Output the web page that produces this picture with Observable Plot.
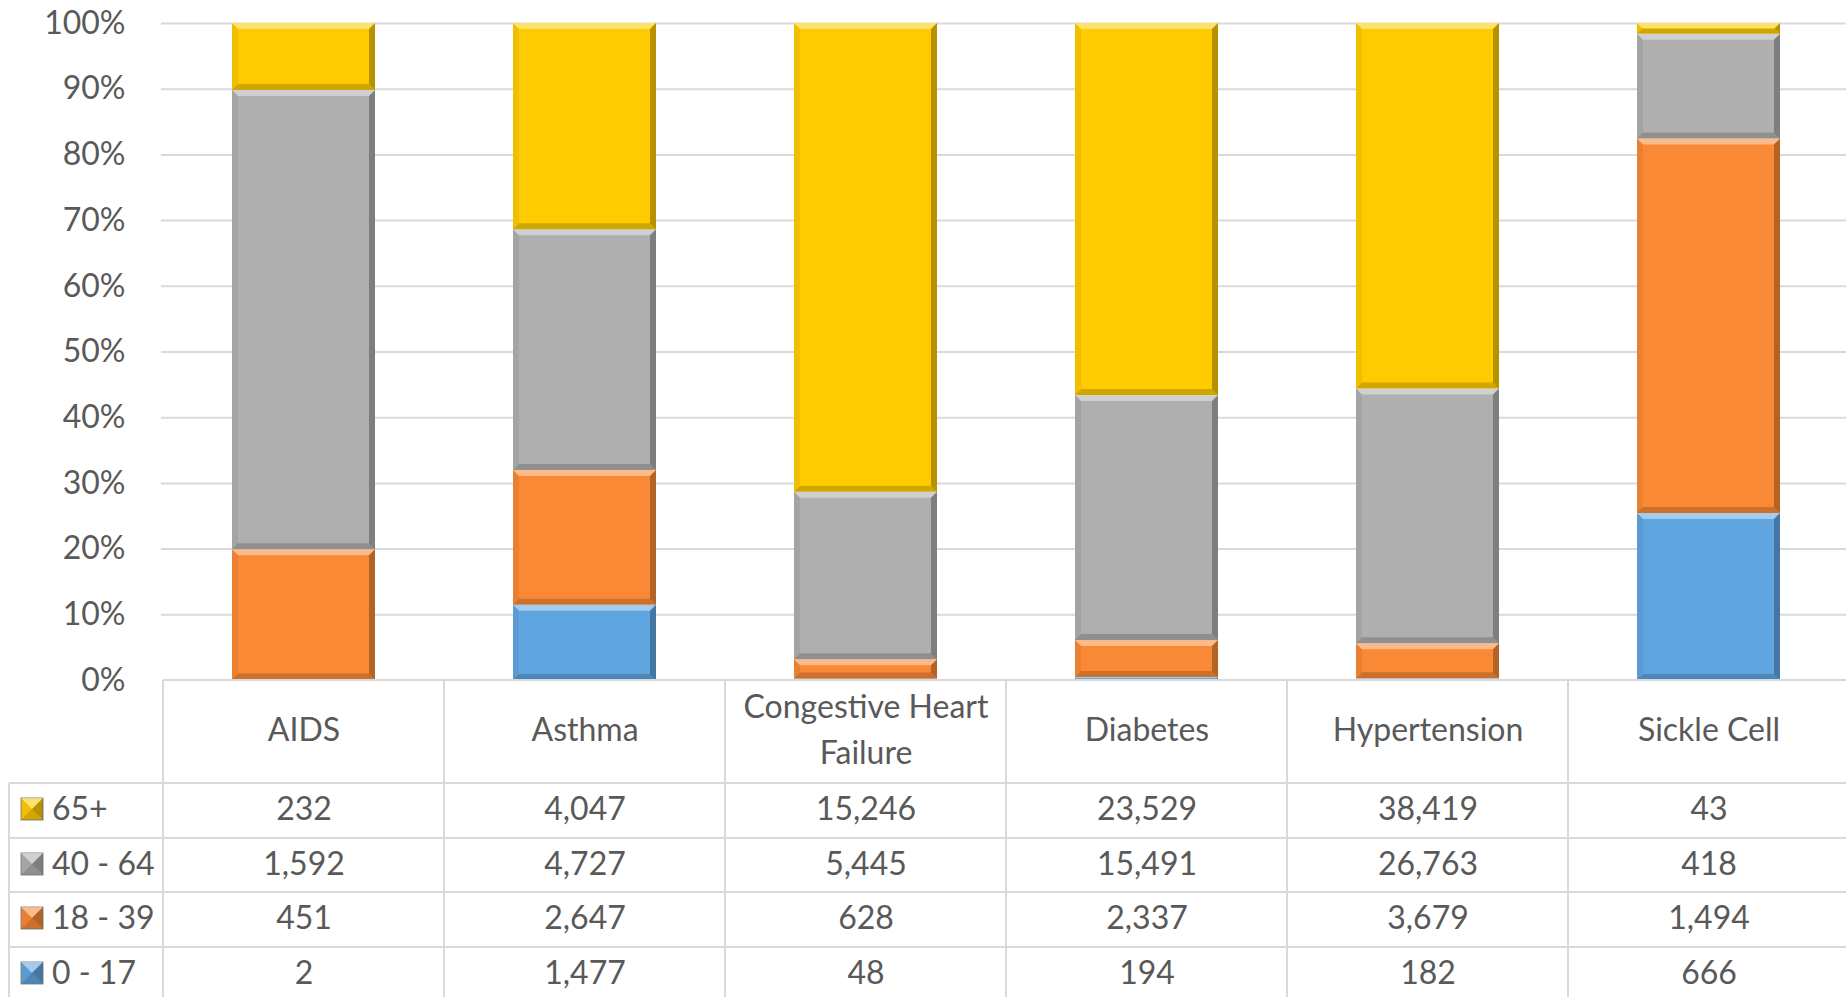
<!DOCTYPE html>
<html><head><meta charset="utf-8">
<script src="https://cdn.jsdelivr.net/npm/d3@7"></script>
<script src="https://cdn.jsdelivr.net/npm/@observablehq/plot@0.6"></script>
<style>
html,body{margin:0;padding:0;background:#fff;overflow:hidden}
#chart svg{display:block}
</style></head><body><div id="chart"></div>
<script>
// ---- data ----
const diseases = ["AIDS", "Asthma", "Congestive Heart Failure", "Diabetes", "Hypertension", "Sickle Cell"];
const headerLabels = ["AIDS", "Asthma", "Congestive Heart\nFailure", "Diabetes", "Hypertension", "Sickle Cell"];
const ageGroups = ["65+", "40 - 64", "18 - 39", "0 - 17"];
const age65 = [232, 4047, 15246, 23529, 38419, 43];
const age40 = [1592, 4727, 5445, 15491, 26763, 418];
const age18 = [451, 2647, 628, 2337, 3679, 1494];
const age0  = [2, 1477, 48, 194, 182, 666];
const ageColors = ["#FECB00", "#AFAFAF", "#F98935", "#5FA5E0"];
const yTicks = [0, 0.1, 0.2, 0.3, 0.4, 0.5, 0.6, 0.7, 0.8, 0.9, 1];

const series = [age65, age40, age18, age0];
const data = [];
diseases.forEach((d, i) => {
  for (let k = ageGroups.length - 1; k >= 0; k--) data.push({disease: d, age: ageGroups[k], value: series[k][i]});
});

// ---- layout ----
const W = 1846, H = 997;
const font = "Lato, 'Open Sans', sans-serif";
const textColor = "#595959";
const lineColor = "#D9D9D9";
const headerDy = 46;
const rowDy = [129, 184, 238, 293];       // row text centres below the baseline
const rowLines = [103, 158, 212, 267];    // table row borders below the baseline
const fmt = d3.format(",");

const marks = [
  Plot.ruleY(yTicks.slice(1), {stroke: lineColor, strokeWidth: 2}),
  Plot.barY(data, {x: "disease", y: "value", fill: "age", offset: "normalize", insetLeft: 69, insetRight: 69}),
  Plot.text(diseases, {x: d => d, text: (d, i) => headerLabels[i], frameAnchor: "bottom", lineAnchor: "middle", dy: headerDy, lineHeight: 1.42, fill: textColor})
];
series.forEach((s, k) => {
  marks.push(Plot.text(diseases, {x: d => d, text: (d, i) => fmt(s[i]), frameAnchor: "bottom", lineAnchor: "middle", dy: rowDy[k], fill: textColor}));
});

const plot = Plot.plot({
  width: W, height: H,
  marginLeft: 161, marginRight: -4, marginTop: 23, marginBottom: 317,
  style: {fontFamily: font, fontSize: "32px", color: textColor, background: "#fff", overflow: "visible"},
  x: {domain: diseases, padding: 0, axis: null},
  y: {domain: [0, 1], ticks: 10, tickFormat: ".0%", tickSize: 0, tickPadding: 36, label: null},
  color: {domain: ageGroups, range: ageColors},
  marks
});
document.getElementById("chart").appendChild(plot);

// ---- bevel effect (Excel-like) ----
function bevel(parent, x, y, w, h, b) {
  if (h < 1.5 || w < 1.5) return;
  b = Math.min(b, h / 2, w / 2);
  const faces = [
    {p: [[x, y], [x + w, y], [x + w - b, y + b], [x + b, y + b]], f: "#fff", o: 0.42},
    {p: [[x, y + h], [x + w, y + h], [x + w - b, y + h - b], [x + b, y + h - b]], f: "#000", o: 0.18},
    {p: [[x, y], [x + b, y + b], [x + b, y + h - b], [x, y + h]], f: "#000", o: 0.06},
    {p: [[x + w, y], [x + w - b, y + b], [x + w - b, y + h - b], [x + w, y + h]], f: "#000", o: 0.28}
  ];
  faces.forEach(fc => {
    d3.select(parent).append("polygon")
      .attr("points", fc.p.map(q => q.join(",")).join(" "))
      .attr("fill", fc.f).attr("fill-opacity", fc.o);
  });
}
const svg = d3.select(plot);
svg.selectAll('g[aria-label="bar"] rect').each(function () {
  const x = +this.getAttribute("x"), y = +this.getAttribute("y");
  const w = +this.getAttribute("width"), h = +this.getAttribute("height");
  bevel(this.parentNode, x, y, w, h, 6);
});

// ---- data table grid and legend ----
const sx = plot.scale("x"), sy = plot.scale("y");
const step = sx.step != null ? sx.step : (sx.range[1] - sx.range[0]) / diseases.length;
const left = d => sx.apply ? sx.apply(d) : sx.range[0] + diseases.indexOf(d) * step;
const y0 = sy.range[0];
const tbl = svg.append("g").attr("stroke", lineColor).attr("stroke-width", 2);
const legendLeft = 9;
tbl.append("line").attr("x1", left(diseases[0])).attr("x2", W).attr("y1", y0).attr("y2", y0);
rowLines.forEach(r => tbl.append("line").attr("x1", legendLeft).attr("x2", W).attr("y1", y0 + r).attr("y2", y0 + r));
diseases.forEach(d => tbl.append("line").attr("x1", left(d)).attr("x2", left(d)).attr("y1", y0).attr("y2", H));
tbl.append("line").attr("x1", legendLeft).attr("x2", legendLeft).attr("y1", y0 + rowLines[0]).attr("y2", H);

const leg = svg.append("g").attr("text-anchor", "start");
ageGroups.forEach((a, k) => {
  const cy = y0 + rowDy[k];
  const g = leg.append("g");
  g.append("rect").attr("x", 21).attr("y", cy - 11).attr("width", 22).attr("height", 22)
    .attr("fill", ageColors[k]).attr("stroke", "#8c8c8c").attr("stroke-width", 1);
  bevel(g.node(), 21, cy - 11, 22, 22, 11);
  leg.append("text").attr("x", 52).attr("y", cy).attr("dy", "0.35em").attr("text-anchor", "start")
    .attr("fill", textColor).attr("font-family", font).attr("font-size", 32).text(a);
});
</script>
</body></html>
